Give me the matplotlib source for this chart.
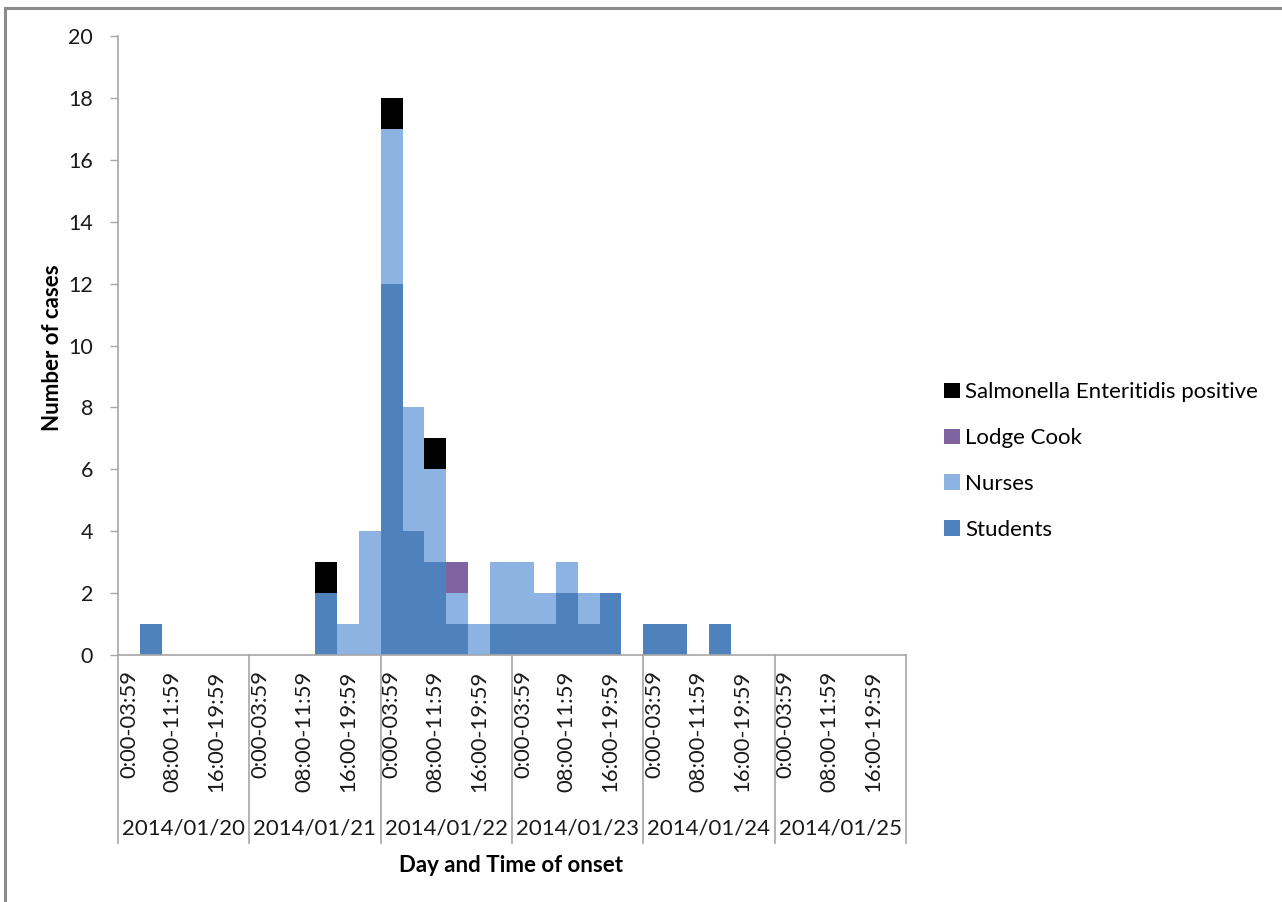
import numpy as np
import matplotlib
matplotlib.use("Agg")
import matplotlib.pyplot as plt
from matplotlib.patches import Patch
from matplotlib.lines import Line2D
from matplotlib import transforms

plt.rcParams['font.family'] = ['Lato', 'DejaVu Sans']

days = ["2014/01/20", "2014/01/21", "2014/01/22", "2014/01/23", "2014/01/24", "2014/01/25"]
time_bins = ["0:00-03:59", "04:00-07:59", "08:00-11:59", "12:00-15:59", "16:00-19:59", "20:00-23:59"]

students = [0, 1, 0, 0, 0, 0,
            0, 0, 0, 2, 0, 0,
            12, 4, 3, 1, 0, 1,
            1, 1, 2, 1, 2, 0,
            1, 1, 0, 1, 0, 0,
            0, 0, 0, 0, 0, 0]
nurses = [0, 0, 0, 0, 0, 0,
          0, 0, 0, 0, 1, 4,
          5, 4, 3, 1, 1, 2,
          2, 1, 1, 1, 0, 0,
          0, 0, 0, 0, 0, 0,
          0, 0, 0, 0, 0, 0]
lodge_cook = [0, 0, 0, 0, 0, 0,
              0, 0, 0, 0, 0, 0,
              0, 0, 0, 1, 0, 0,
              0, 0, 0, 0, 0, 0,
              0, 0, 0, 0, 0, 0,
              0, 0, 0, 0, 0, 0]
salmonella = [0, 0, 0, 0, 0, 0,
              0, 0, 0, 1, 0, 0,
              1, 0, 1, 0, 0, 0,
              0, 0, 0, 0, 0, 0,
              0, 0, 0, 0, 0, 0,
              0, 0, 0, 0, 0, 0]

c_students = "#4F81BD"
c_nurses = "#8DB3E2"
c_cook = "#8064A2"
c_salm = "#000000"
gray = "#A6A6A6"

fig = plt.figure(figsize=(12.82, 9.02), dpi=100)
ax = fig.add_axes([118/1282, 1 - 655/902, 788/1282, 619/902])

n = len(students)
x = np.arange(n)
s = np.array(students, float)
nu = np.array(nurses, float)
lc = np.array(lodge_cook, float)
sa = np.array(salmonella, float)

ax.bar(x, s, width=1.0, color=c_students, linewidth=0)
ax.bar(x, nu, width=1.0, bottom=s, color=c_nurses, linewidth=0)
ax.bar(x, lc, width=1.0, bottom=s + nu, color=c_cook, linewidth=0)
ax.bar(x, sa, width=1.0, bottom=s + nu + lc, color=c_salm, linewidth=0)

ax.set_xlim(-0.5, n - 0.5)
ax.set_ylim(0, 20)
ax.set_yticks(np.arange(0, 21, 2))
ax.tick_params(axis='y', length=6, width=1, color=gray, pad=12, labelsize=15.5,
               labelcolor='#1a1a1a')

nb = len(time_bins)
tick_pos = [d * nb + i for d in range(len(days)) for i in range(0, nb, 2)]
tick_lab = [time_bins[i] for d in range(len(days)) for i in range(0, nb, 2)]
ax.set_xticks(tick_pos)
ax.set_xticklabels(tick_lab, rotation=90, va='top', ha='center')
ax.tick_params(axis='x', length=0, pad=11, labelsize=15.8, labelcolor='#1a1a1a')

for sp in ['top', 'right']:
    ax.spines[sp].set_visible(False)
for sp in ['left', 'bottom']:
    ax.spines[sp].set_color(gray)
    ax.spines[sp].set_linewidth(1.2)

trans = transforms.blended_transform_factory(ax.transData, ax.transAxes)
for d in range(len(days) + 1):
    xb = d * nb - 0.5
    ax.add_line(Line2D([xb, xb], [0, -0.304], transform=trans, color=gray,
                       linewidth=1.2, clip_on=False))
for d, lab in enumerate(days):
    ax.text(d * nb + (nb - 1) / 2, -0.281, lab, transform=trans, ha='center',
            va='center', fontsize=16, color='#1a1a1a')

fig.text(53/1282, 1 - 348/902, "Number of cases", rotation=90, ha='center', va='center',
         fontsize=16, fontweight='bold')
fig.text(511/1282, 1 - 866/902, "Day and Time of onset", ha='center', va='center',
         fontsize=16, fontweight='bold')

handles = [Patch(facecolor=c_salm, label="Salmonella Enteritidis positive"),
           Patch(facecolor=c_cook, label="Lodge Cook"),
           Patch(facecolor=c_nurses, label="Nurses"),
           Patch(facecolor=c_students, label="Students")]
fig.legend(handles=handles, loc='center left',
           bbox_to_anchor=(944/1282, 1 - 461/902), frameon=False,
           fontsize=16, handlelength=0.7, handleheight=0.7,
           handletextpad=0.25, labelspacing=1.16, borderpad=0, borderaxespad=0)

# outer chart-area border (left and top visible)
fig.add_artist(Line2D([5/1282, 5/1282], [0, 1 - 8/902], transform=fig.transFigure,
                      color='#8C8C8C', linewidth=2.2))
fig.add_artist(Line2D([5/1282, 1], [1 - 8/902, 1 - 8/902], transform=fig.transFigure,
                      color='#8C8C8C', linewidth=2.2))

fig.savefig("out.png", dpi=100)
